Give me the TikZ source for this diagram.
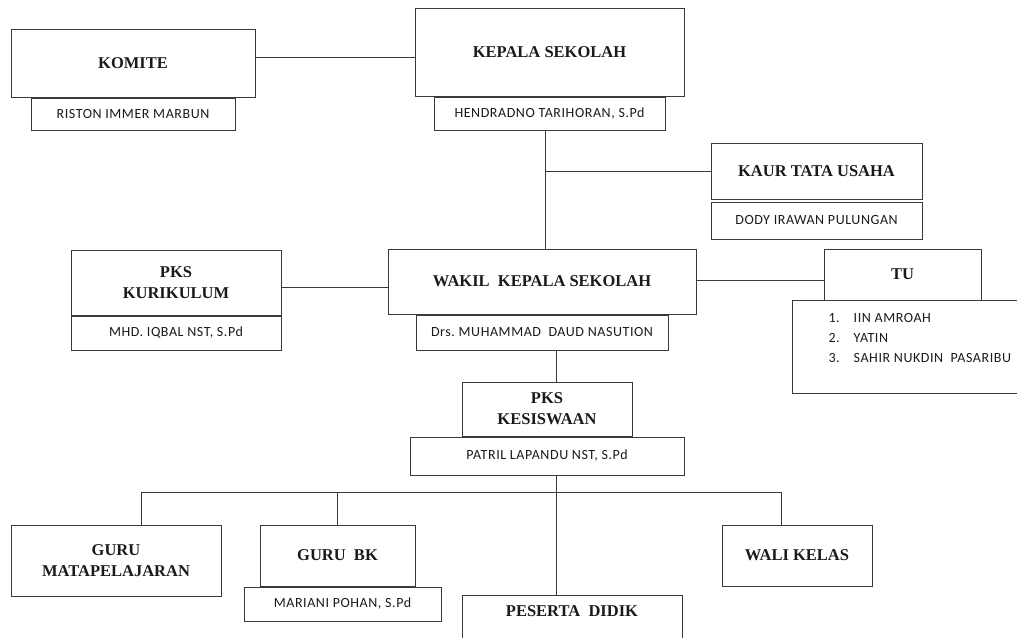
\documentclass[tikz,border=0pt]{standalone}
\usepackage{fontspec}
\setmainfont{Liberation Serif}
\newfontfamily\namefont[LetterSpace=4]{Carlito}
\usetikzlibrary{positioning}

\begin{document}
\begin{tikzpicture}[x=1pt,y=-1pt]
  % School organisation chart: one px of the sketch is one pt here,
  % the title box on top and the person's name in a box hung under it.
  \definecolor{rule}{HTML}{3A3A3A}
  \definecolor{ink}{HTML}{1A1A1A}
  \useasboundingbox (0,0) rectangle (1017,637);
  \clip (0,0) rectangle (1017,637);

  \tikzset{post/.style={draw=rule,line width=1pt,text=ink,align=center,inner sep=0pt,
                        font=\bfseries\fontsize{16.5}{21}\selectfont},
           holder/.style={draw=rule,line width=1pt,text=ink,inner sep=0pt,
                          font=\namefont\fontsize{14}{20}\selectfont},
           link/.style={draw=rule,line width=1pt}}

  \node[post,minimum width=244,minimum height=68] (komite) at (133,63) {KOMITE};
  \node[holder,minimum width=204,minimum height=32,below=0pt of komite] (komitenama) {RISTON IMMER MARBUN};

  \node[post,minimum width=269,minimum height=88] (kepala) at (549.5,52) {KEPALA SEKOLAH};
  \node[holder,minimum width=231,minimum height=33,below=0pt of kepala] (kepalanama) {HENDRADNO TARIHORAN, S.Pd};

  \node[post,minimum width=211,minimum height=56] (kaur) at (816.5,171) {KAUR TATA USAHA};
  \node[holder,minimum width=211,minimum height=37,below=2pt of kaur] (kaurnama) {DODY IRAWAN PULUNGAN};

  \node[post,minimum width=210,minimum height=65] (kurikulum) at (176,282.5) {PKS\\KURIKULUM};
  \node[holder,minimum width=210,minimum height=34,below=0pt of kurikulum] (kurikulumnama) {MHD.\ IQBAL NST, S.Pd};

  \node[post,minimum width=308,minimum height=65] (wakil) at (542,281.5) {WAKIL\ \ KEPALA\ SEKOLAH};
  \node[holder,minimum width=252,minimum height=35,below=0pt of wakil] (wakilnama) {Drs.\ MUHAMMAD\ \ DAUD NASUTION};

  \node[post,minimum width=157,minimum height=51] (tu) at (902.5,274.5) {TU};
  \node[holder,anchor=north west,minimum width=230,inner xsep=36pt,inner ysep=7.5pt] (tulist) at (792,300)
    {\begin{tabular}{@{}l@{\hspace{14pt}}l@{}}
       1. & IIN AMROAH\\
       2. & YATIN\\
       3. & SAHIR NUKDIN\ \ PASARIBU\\[18pt]
     \end{tabular}};

  \node[post,minimum width=170,minimum height=54] (kesiswaan) at (547,409) {PKS\\KESISWAAN};
  \node[holder,minimum width=274,minimum height=38,below=0pt of kesiswaan] (kesiswaannama) {PATRIL LAPANDU NST, S.Pd};

  \node[post,minimum width=210,minimum height=71] (gurumapel) at (116,560.5) {GURU\\MATAPELAJARAN};
  \node[post,minimum width=155,minimum height=61] (gurubk) at (337.5,555.5) {GURU\ \ BK};
  \node[holder,minimum width=197,minimum height=34,below=0pt of gurubk,xshift=5pt] (gurubknama) {MARIANI POHAN, S.Pd};
  \node[post,minimum width=150,minimum height=61] (wali) at (797,555.5) {WALI KELAS};
  \node[post,anchor=north,minimum width=220,text height=21pt,text depth=40pt] (peserta) at (572,595) {PESERTA\ \ DIDIK};

  % connectors
  \coordinate (spine) at ([xshift=-4.5pt]kepalanama.south);
  \coordinate (trunk) at (556,492);
  \draw[link] ([yshift=6pt]komite.east) -- ([yshift=6pt]komite.east -| kepala.west);
  \draw[link] (spine) -- (spine |- wakil.north);
  \draw[link] (kaur.west) -- (kaur.west -| spine);
  \draw[link] ([yshift=-4.5pt]kurikulum.east) -- ([yshift=-4.5pt]kurikulum.east -| wakil.west);
  \draw[link] ([yshift=1.5pt]wakil.east) -- ([yshift=1.5pt]wakil.east -| tu.west);
  \draw[link] (wakilnama.south -| trunk) -- (kesiswaan.north -| trunk);
  \draw[link] (kesiswaannama.south -| trunk) -- (peserta.north -| trunk);
  \draw[link] ([xshift=25pt]gurumapel.north) |- ([xshift=-16pt]wali.north |- trunk) -- ([xshift=-16pt]wali.north);
  \draw[link] (gurubk.north) -- (gurubk.north |- trunk);
\end{tikzpicture}
\end{document}
